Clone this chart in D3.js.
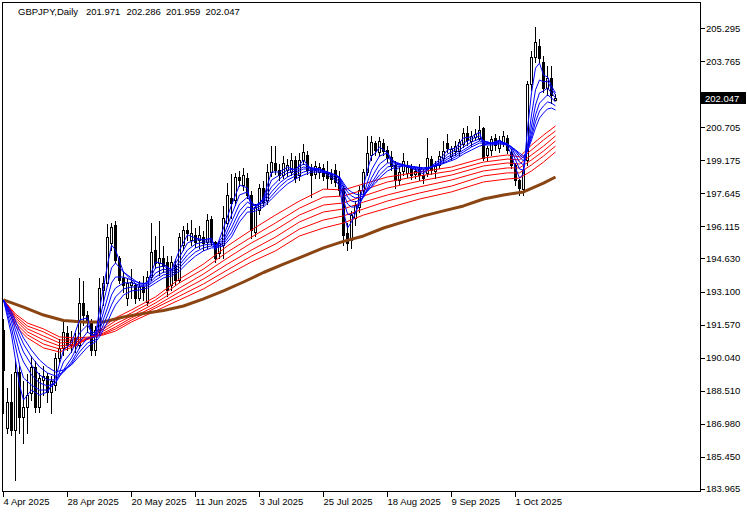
<!DOCTYPE html>
<html><head><meta charset="utf-8">
<script src="https://cdn.jsdelivr.net/npm/d3@7"></script>
<style>
html,body{margin:0;padding:0;background:#fff;}
svg{display:block;}
text{font-family:"Liberation Sans",Arial,sans-serif;font-size:9.5px;fill:#000;}
</style></head><body>
<svg id="c" width="747" height="513"></svg>
<script>
const symbolLabel = "GBPJPY,Daily";
const lastQuote = ["201.971", "202.286", "201.959", "202.047"];
const lastPrice = 202.047;
const startDate = "2025-04-04";
const barCount = 139;

const open = [191.32,186.79,187.99,186.69,189.38,187.29,187.76,188.40,189.61,187.76,
189.01,189.19,188.45,188.77,190.02,190.49,191.18,190.63,190.95,190.63,
192.57,192.01,191.69,190.39,191.32,193.17,193.50,195.35,196.18,194.65,
193.73,192.80,193.40,193.40,192.80,193.31,192.62,193.77,195.02,194.42,
194.65,194.47,193.40,194.33,193.63,195.25,195.95,195.49,195.72,195.49,
195.62,195.39,196.46,195.39,194.88,195.25,196.27,197.43,197.34,198.40,
198.03,198.35,197.57,195.86,196.87,197.89,197.34,198.63,199.05,198.72,
198.49,198.72,198.63,199.19,198.49,199.19,199.42,198.82,198.54,198.63,
198.82,198.63,198.54,198.72,198.35,197.89,195.81,195.49,196.50,197.01,
197.80,198.63,199.42,199.97,199.56,199.97,199.65,199.33,198.96,198.26,
198.68,198.59,198.82,198.54,198.77,198.49,198.59,199.23,198.68,198.96,
199.28,199.97,199.37,199.60,199.60,199.93,200.44,200.07,200.25,200.21,
200.67,199.42,199.65,200.21,199.74,200.02,200.21,199.56,198.96,198.26,
197.84,199.19,202.70,203.95,204.46,203.72,202.52,202.98,201.971];
const high = [191.88,188.68,189.33,189.93,189.70,189.01,189.33,190.16,189.93,189.38,
189.70,189.38,189.24,190.30,190.95,191.78,191.55,191.32,191.23,193.77,
193.63,192.25,191.88,191.55,193.77,193.87,196.27,196.32,196.41,194.79,
194.10,193.73,194.19,193.54,193.63,193.87,194.10,196.32,195.72,196.41,
195.25,194.79,194.79,194.65,195.86,196.18,196.32,196.46,196.09,196.18,
195.95,196.73,196.64,195.49,195.49,197.10,198.17,198.59,198.63,198.72,
198.86,198.63,197.80,197.20,198.12,198.26,199.05,199.88,199.88,199.05,
199.42,199.28,199.56,199.42,199.56,199.97,199.65,199.05,199.19,199.09,
199.05,199.19,198.82,199.05,198.72,198.03,196.32,196.87,197.34,198.03,
198.82,200.34,200.34,200.11,200.30,200.21,199.88,199.65,199.19,198.96,
199.56,199.19,199.05,198.91,199.05,198.82,200.25,199.42,199.19,199.65,
200.11,200.44,199.88,200.11,200.21,200.71,200.81,200.58,200.67,201.27,
200.76,199.88,200.34,200.44,200.34,200.58,200.39,199.74,199.09,198.35,
198.96,202.89,204.28,205.39,204.83,204.05,203.58,203.58,202.286];
const low = [187.48,186.55,186.46,184.38,186.55,186.09,186.55,188.08,187.53,187.53,
188.31,187.99,187.48,188.54,189.84,190.16,190.39,190.30,190.30,190.49,
191.55,191.23,190.16,190.16,191.20,192.48,193.40,195.02,194.47,193.50,
193.08,192.48,192.80,192.57,192.71,192.71,192.48,193.63,194.19,193.87,
194.00,192.89,193.17,193.40,193.54,195.02,195.49,195.25,195.16,195.12,
195.02,195.12,195.25,194.47,194.65,194.65,196.13,196.50,197.10,197.98,
197.80,197.43,195.58,195.67,196.69,197.06,197.15,198.45,198.54,198.26,
198.35,198.45,198.49,198.17,198.26,199.00,198.54,197.47,198.35,198.35,
198.26,197.89,198.12,197.98,197.57,195.25,195.02,195.12,196.18,196.78,
197.61,198.49,199.19,199.42,199.37,199.42,199.09,198.72,197.89,198.08,
198.49,198.40,198.31,198.35,198.26,198.12,198.45,198.54,198.35,198.82,
199.09,199.56,199.19,199.42,199.42,199.79,199.88,199.83,200.11,200.11,
199.19,199.19,199.42,199.65,199.56,199.83,199.51,198.82,198.03,197.57,
197.57,198.96,202.43,203.72,203.72,202.33,202.20,201.82,201.959];
const close = [189.47,187.99,186.69,189.38,187.29,187.76,188.31,189.61,187.76,189.10,
189.19,188.45,188.96,190.02,190.49,191.23,190.63,190.86,190.63,192.57,
192.01,191.69,190.39,191.32,193.26,193.50,195.62,196.09,194.56,193.63,
193.40,193.50,193.54,192.80,193.31,193.08,193.77,194.93,194.42,194.65,
194.28,193.17,194.47,193.63,195.62,195.95,195.81,195.81,195.39,195.72,
195.35,196.41,195.39,194.65,195.35,196.50,197.57,197.20,198.40,198.26,
198.49,197.57,195.95,197.01,197.89,197.24,198.63,199.09,198.72,198.49,
199.05,198.96,199.19,198.35,199.19,199.56,198.72,198.49,198.91,198.86,
198.45,198.35,198.31,198.17,197.80,195.72,195.35,196.64,197.10,197.80,
198.63,199.51,200.02,199.65,200.07,199.60,199.28,198.91,198.26,198.63,
199.14,198.86,198.49,198.68,198.49,198.35,199.28,198.72,198.91,199.37,
199.60,199.74,199.70,199.83,200.02,200.44,200.11,200.30,200.39,200.58,
199.28,199.74,200.16,199.88,200.11,200.30,199.65,198.96,198.26,197.89,
198.72,202.70,203.95,204.65,203.91,202.52,202.98,202.20,202.047];

// short-term averages (blue), read at these bar indices
const blueIdx = [0,2,4,5,7,9,11,13,15,17,19,21,22,23,24,26,27,28,30,32,34,36,38,40,42,44,46,48,50,52,53,55,57,59,61,62,63,65,67,69,71,73,75,77,79,81,83,84,85,86,87,88,89,90,91,92,93,94,96,98,100,103,105,107,109,111,113,115,117,119,120,122,124,126,127,128,129,130,131,132,133,134,135,136,137,138];
const blue1 = [192.71,191.09,188.77,188.08,188.54,188.31,188.45,189.10,190.39,190.72,
191.78,191.88,191.09,191.09,192.25,194.33,195.25,195.02,194.00,193.63,
193.31,193.54,194.47,194.37,194.10,195.02,195.72,195.58,195.49,195.58,
195.02,196.04,197.10,198.03,197.89,196.87,196.96,197.43,198.63,198.63,
198.86,198.72,199.19,198.72,198.77,198.49,198.26,197.98,196.78,196.04,
196.32,196.73,197.34,197.98,198.72,199.37,199.51,199.79,199.51,198.72,
198.96,198.72,198.54,198.91,199.19,199.65,199.74,200.21,200.25,200.48,
199.88,199.97,200.11,199.83,199.42,198.82,198.35,198.54,200.62,202.29,
203.44,203.67,203.12,203.03,202.61,202.29];
const blue2 = [192.71,191.41,189.70,189.10,188.77,188.54,188.54,188.87,189.84,190.30,
191.18,191.55,191.23,191.18,191.78,193.40,194.19,194.42,194.00,193.73,
193.45,193.50,194.19,194.28,194.10,194.70,195.35,195.49,195.49,195.49,
195.21,195.67,196.64,197.57,197.71,197.20,197.06,197.34,198.26,198.49,
198.72,198.77,199.00,198.82,198.77,198.59,198.35,198.17,197.34,196.69,
196.64,196.78,197.10,197.57,198.17,198.72,199.05,199.37,199.51,199.00,
198.91,198.77,198.63,198.86,199.09,199.46,199.65,199.97,200.16,200.30,
200.07,199.97,200.07,199.93,199.65,199.19,198.77,198.72,199.88,201.27,
202.43,202.89,202.80,202.84,202.47,202.20];
const blue3 = [192.71,191.69,190.30,189.84,189.24,188.87,188.73,188.87,189.47,190.02,
190.76,191.23,191.09,191.09,191.50,192.80,193.50,193.77,193.77,193.63,
193.50,193.45,193.96,194.14,194.05,194.47,195.02,195.30,195.39,195.39,
195.25,195.49,196.32,197.15,197.47,197.20,197.10,197.29,197.94,198.31,
198.59,198.68,198.86,198.82,198.77,198.63,198.45,198.31,197.66,197.15,
197.01,197.01,197.20,197.47,197.89,198.35,198.68,199.00,199.28,199.09,
198.96,198.82,198.72,198.86,199.05,199.33,199.51,199.79,200.02,200.16,
200.07,199.97,200.02,199.93,199.74,199.42,199.09,198.96,199.65,200.76,
201.73,202.29,202.38,202.52,202.29,202.06];
const blue4 = [192.71,191.88,190.76,190.30,189.70,189.24,189.01,189.01,189.38,189.84,
190.49,190.95,190.95,191.00,191.32,192.34,192.94,193.26,193.50,193.50,
193.40,193.40,193.77,194.00,194.00,194.33,194.79,195.12,195.25,195.30,
195.21,195.39,196.04,196.83,197.24,197.10,197.06,197.20,197.71,198.12,
198.40,198.59,198.77,198.77,198.72,198.63,198.49,198.35,197.89,197.47,
197.29,197.24,197.34,197.47,197.80,198.12,198.40,198.72,199.05,199.05,
198.96,198.86,198.77,198.86,199.00,199.23,199.42,199.65,199.88,200.07,
200.02,199.97,200.02,199.93,199.79,199.56,199.33,199.14,199.65,200.44,
201.27,201.82,202.01,202.20,202.06,201.87];
const blue5 = [192.71,192.01,191.09,190.67,190.07,189.61,189.33,189.19,189.38,189.75,
190.30,190.72,190.81,190.86,191.13,192.01,192.48,192.85,193.22,193.31,
193.31,193.36,193.63,193.87,193.91,194.19,194.61,194.93,195.12,195.21,
195.16,195.30,195.81,196.55,197.01,196.96,196.96,197.10,197.52,197.94,
198.26,198.45,198.63,198.72,198.68,198.63,198.49,198.40,198.03,197.71,
197.52,197.43,197.47,197.52,197.75,197.98,198.26,198.49,198.86,198.96,
198.96,198.86,198.82,198.86,198.96,199.14,199.33,199.56,199.79,199.97,
199.97,199.93,199.97,199.93,199.79,199.65,199.42,199.28,199.65,200.25,
200.95,201.45,201.69,201.87,201.82,201.69];
const blue6 = [192.71,192.15,191.32,190.95,190.39,189.93,189.61,189.38,189.47,189.70,
190.12,190.53,190.67,190.76,191.00,191.69,192.11,192.48,192.94,193.13,
193.17,193.26,193.50,193.73,193.82,194.05,194.42,194.74,194.98,195.12,
195.12,195.21,195.62,196.32,196.78,196.78,196.83,197.01,197.38,197.75,
198.08,198.31,198.49,198.63,198.63,198.59,198.49,198.40,198.12,197.84,
197.71,197.61,197.57,197.61,197.75,197.94,198.12,198.35,198.68,198.86,
198.91,198.86,198.82,198.86,198.96,199.09,199.23,199.46,199.65,199.83,
199.88,199.88,199.93,199.88,199.79,199.65,199.51,199.37,199.60,200.11,
200.67,201.13,201.36,201.55,201.59,201.50];

// long-term averages (red), read at these bar indices
const redIdx = [0,3,6,10,14,18,22,25,28,32,38,44,50,56,62,68,74,80,85,90,96,104,112,120,126,129,132,135,138];
const red1 = [192.71,191.50,190.95,190.49,190.30,190.58,191.04,191.46,191.88,192.25,192.85,193.68,194.37,195.21,195.95,196.64,197.29,197.84,197.80,198.08,198.40,198.63,198.86,199.28,199.42,199.33,199.88,200.34,200.76];
const red2 = [192.71,191.64,191.09,190.67,190.44,190.63,191.00,191.37,191.74,192.11,192.71,193.50,194.14,194.93,195.62,196.27,196.96,197.47,197.52,197.80,198.17,198.45,198.68,199.09,199.23,199.19,199.65,200.11,200.53];
const red3 = [192.71,191.78,191.23,190.86,190.58,190.67,190.95,191.27,191.60,191.97,192.57,193.26,193.91,194.65,195.35,195.95,196.64,197.10,197.20,197.52,197.89,198.21,198.49,198.91,199.05,199.00,199.42,199.83,200.30];
const red4 = [192.71,191.88,191.37,191.04,190.72,190.76,190.95,191.18,191.46,191.88,192.43,193.08,193.68,194.37,195.02,195.62,196.32,196.78,196.92,197.24,197.57,197.94,198.26,198.68,198.82,198.82,199.19,199.60,200.07];
const red5 = [192.71,191.97,191.50,191.23,190.86,190.86,190.95,191.13,191.37,191.78,192.34,192.89,193.45,194.10,194.74,195.30,195.99,196.41,196.60,196.92,197.29,197.66,197.98,198.45,198.59,198.59,198.96,199.37,199.83];
const red6 = [192.71,192.06,191.64,191.37,191.00,190.95,191.00,191.09,191.27,191.69,192.20,192.71,193.22,193.87,194.47,194.98,195.67,196.04,196.27,196.64,196.96,197.38,197.71,198.17,198.31,198.35,198.68,199.09,199.56];

// slowest average (brown), read at these bar indices
const brownIdx = [0,5,10,15,20,25,30,35,40,45,50,55,60,65,70,75,80,85,90,95,100,105,110,115,120,125,130,135,138];
const brown = [192.71,192.38,192.01,191.76,191.69,191.69,191.92,192.08,192.22,192.43,192.76,193.13,193.54,193.98,194.37,194.74,195.12,195.42,195.67,196.04,196.32,196.60,196.83,197.06,197.38,197.57,197.71,198.12,198.40];

const priceTicks = [205.295,203.765,202.235,200.705,199.175,197.645,196.115,194.630,193.100,191.570,190.040,188.510,186.980,185.450,183.965];
const dateTickLabels = ["4 Apr 2025","28 Apr 2025","20 May 2025","11 Jun 2025","3 Jul 2025","25 Jul 2025","18 Aug 2025","9 Sep 2025","1 Oct 2025"];

// trading-day categories (weekdays)
const months = ["Jan","Feb","Mar","Apr","May","Jun","Jul","Aug","Sep","Oct","Nov","Dec"];
const dates = [];
{
  let d = new Date(startDate + "T00:00:00Z");
  while (dates.length < barCount) {
    const wd = d.getUTCDay();
    if (wd !== 0 && wd !== 6) dates.push(d.getUTCDate() + " " + months[d.getUTCMonth()] + " " + d.getUTCFullYear());
    d = new Date(d.getTime() + 86400000);
  }
}

const svg = d3.select("#c");
const x = d3.scaleLinear().domain([0, 1]).range([3.5, 7.5]);
const y = d3.scaleLinear().domain([183.965, 205.295]).range([488.9, 28]);
const py = v => Math.round(y(v)) + 0.5;
const ly = Math.round(y(lastPrice));

const defs = svg.append("defs");
defs.append("clipPath").attr("id", "plot")
  .append("rect").attr("x", 3).attr("y", 3).attr("width", 697).attr("height", 488);
// part of the scale hidden behind the current-price box
defs.append("clipPath").attr("id", "underBox")
  .append("rect").attr("x", 700).attr("y", 0).attr("width", 47).attr("height", ly - 6);

const plot = svg.append("g").attr("clip-path", "url(#plot)");

// candles
const bars = d3.range(barCount).map(i => ({i, o: open[i], h: high[i], l: low[i], c: close[i]}));
const cg = plot.append("g").attr("shape-rendering", "crispEdges");
cg.selectAll("line.wick").data(bars).join("line")
  .attr("x1", d => x(d.i)).attr("x2", d => x(d.i))
  .attr("y1", d => py(d.h)).attr("y2", d => py(d.l) + 0.5)
  .attr("stroke", "#000").attr("stroke-width", 1);
cg.selectAll("rect.body").data(bars).join("rect")
  .attr("x", d => x(d.i) - 1)
  .attr("y", d => py(Math.max(d.o, d.c)))
  .attr("width", 2)
  .attr("height", d => Math.max(0, py(Math.min(d.o, d.c)) - py(Math.max(d.o, d.c))))
  .attr("fill", d => d.c >= d.o ? "#fff" : "#000")
  .attr("stroke", "#000").attr("stroke-width", 1);

// averages
const line = d3.line().x(d => x(d[0])).y(d => y(d[1]));
function drawMA(idx, vals, color, w) {
  plot.append("path").datum(idx.map((k, j) => [k, vals[j]]))
    .attr("d", line).attr("fill", "none")
    .attr("stroke", color).attr("stroke-width", w)
    .attr("stroke-linejoin", "round");
}
[red6, red5, red4, red3, red2, red1].forEach(v => drawMA(redIdx, v, "#ff0000", 1));
drawMA(brownIdx, brown, "#8b4513", 3);
[blue6, blue5, blue4, blue3, blue2, blue1].forEach(v => drawMA(blueIdx, v, "#0000ff", 1));

// frame
svg.append("rect").attr("x", 2.5).attr("y", 2.5).attr("width", 698).attr("height", 489)
  .attr("fill", "none").attr("stroke", "#000").attr("stroke-width", 1).attr("shape-rendering", "crispEdges");

// right price axis
const ra = svg.append("g");
ra.selectAll("line").data(priceTicks).join("line")
  .attr("x1", 701).attr("x2", 705).attr("y1", d => py(d)).attr("y2", d => py(d))
  .attr("stroke", "#000").attr("shape-rendering", "crispEdges");
ra.selectAll("text").data(priceTicks).join("text")
  .attr("x", 706).attr("y", d => y(d) + 3.5)
  .attr("clip-path", d => Math.abs(y(d) - ly) < 10 ? "url(#underBox)" : null)
  .text(d => d.toFixed(3));

// current price box
svg.append("rect").attr("x", 701).attr("y", ly - 6).attr("width", 45).attr("height", 12).attr("fill", "#000");
svg.append("text").attr("x", 705).attr("y", ly + 3.5).style("fill", "#fff").text(lastPrice.toFixed(3));

// bottom date axis
const dticks = dateTickLabels.map(lbl => ({lbl, i: dates.indexOf(lbl)})).filter(d => d.i >= 0);
const ba = svg.append("g");
ba.selectAll("line").data(dticks).join("line")
  .attr("x1", d => x(d.i)).attr("x2", d => x(d.i)).attr("y1", 492).attr("y2", 497)
  .attr("stroke", "#000").attr("shape-rendering", "crispEdges");
ba.selectAll("text").data(dticks).join("text")
  .attr("x", d => x(d.i)).attr("y", 505).text(d => d.lbl);

// title
svg.append("text").attr("x", 18).attr("y", 15).text(symbolLabel);
const qx = [86, 126.5, 166, 205.5];
svg.selectAll("text.q").data(lastQuote).join("text").attr("class", "q")
  .attr("x", (d, k) => qx[k]).attr("y", 15).text(d => d);
</script>
</body></html>
